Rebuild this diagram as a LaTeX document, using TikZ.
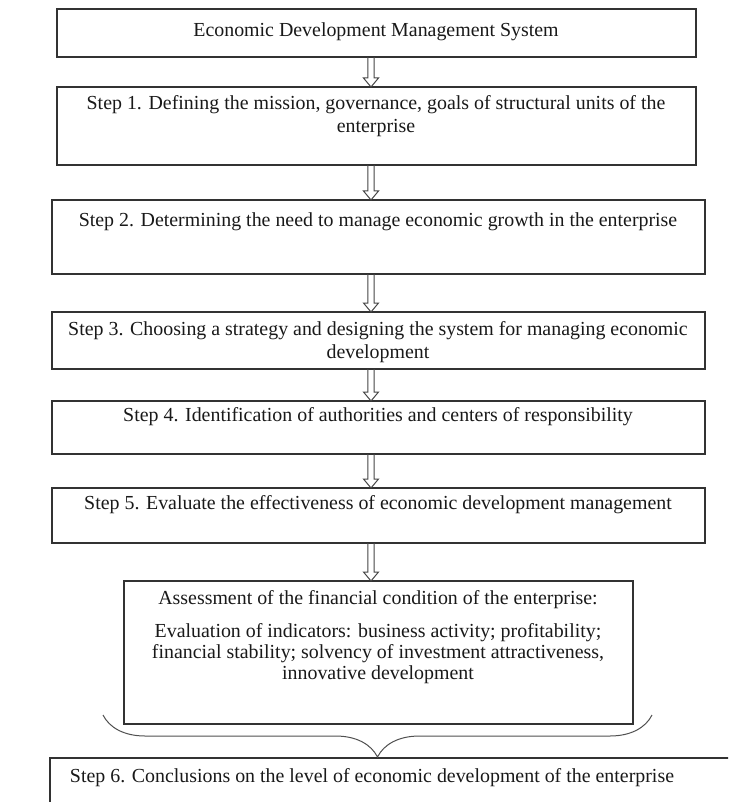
\documentclass[tikz,border=0pt]{standalone}
\usepackage{fontspec}
\setmainfont{Liberation Serif}
\usetikzlibrary{calc,decorations.pathreplacing}
\definecolor{linec}{RGB}{50,50,50}
\definecolor{textc}{RGB}{25,25,25}
\definecolor{arrc}{RGB}{70,70,70}
\definecolor{brc}{RGB}{80,80,80}
\newcommand\hollowdown[2]{%
  \draw[harrow] ($(#1.south -| ax)+(-3.2,0)$) -- ($(#2.north -| ax)+(-3.2,-9)$)
    -- ($(#2.north -| ax)+(-7.5,-9)$) -- (#2.north -| ax)
    -- ($(#2.north -| ax)+(7.5,-9)$) -- ($(#2.north -| ax)+(3.2,-9)$)
    -- ($(#1.south -| ax)+(3.2,0)$);}
\begin{document}
\begin{tikzpicture}[x=1pt,y=-1pt,
  box/.style={draw=linec, line width=1.2pt, rectangle, inner sep=0pt, outer sep=0pt, anchor=north west},
  txt/.style={font=\fontsize{19.9}{23.5}\selectfont, text=textc, align=center, inner sep=0pt},
  harrow/.style={draw=arrc, line width=1pt, line join=miter},
  bracestyle/.style={draw=brc, line width=1pt, decorate, decoration={brace, mirror, amplitude=42pt}}]
\clip (0,0) rectangle (728,802);
\fill[white] (0,0) rectangle (728,802);
\coordinate (ax) at (371,0);

\node[box, minimum width=639pt, minimum height=48pt] (b0) at (57,9) {};
\node[box, minimum width=639pt, minimum height=78pt] (b1) at (57,87) {};
\node[box, minimum width=653pt, minimum height=74pt] (b2) at (52,200) {};
\node[box, minimum width=653pt, minimum height=57pt] (b3) at (52,312) {};
\node[box, minimum width=653pt, minimum height=53pt] (b4) at (52,401) {};
\node[box, minimum width=653pt, minimum height=55pt] (b5) at (52,488) {};
\node[box, minimum width=509pt, minimum height=143pt] (b6) at (124,581) {};
\node[box, minimum width=700pt, minimum height=70pt] (b7) at (50,758) {};

\node[txt] (t0) at (376,32) {Economic Development Management System};
\node[txt] (t1) at (376,116) {Step 1. Defining the mission, governance, goals of structural units of the\\enterprise};
\node[txt] (t2) at (378,222) {Step 2. Determining the need to manage economic growth in the enterprise};
\node[txt] (t3) at (378,342) {Step 3. Choosing a strategy and designing the system for managing economic\\development};
\node[txt] (t4) at (378,417) {Step 4. Identification of authorities and centers of responsibility};
\node[txt] (t5) at (378,505) {Step 5. Evaluate the effectiveness of economic development management};
\node[txt] (t6a) at (378,600) {Assessment of the financial condition of the enterprise:};
\node[txt, font=\fontsize{19.9}{21}\selectfont] (t6b) at (378,654) {Evaluation of indicators: business activity; profitability;\\financial stability; solvency of investment attractiveness,\\innovative development};
\node[txt] (t7) at (372,778) {Step 6. Conclusions on the level of economic development of the enterprise};

\hollowdown{b0}{b1}
\hollowdown{b1}{b2}
\hollowdown{b2}{b3}
\hollowdown{b3}{b4}
\hollowdown{b4}{b5}
\hollowdown{b5}{b6}

\coordinate (bl) at (103,715);
\coordinate (br) at (652,715);
\draw[bracestyle] (bl) -- (br);
\end{tikzpicture}
\end{document}
